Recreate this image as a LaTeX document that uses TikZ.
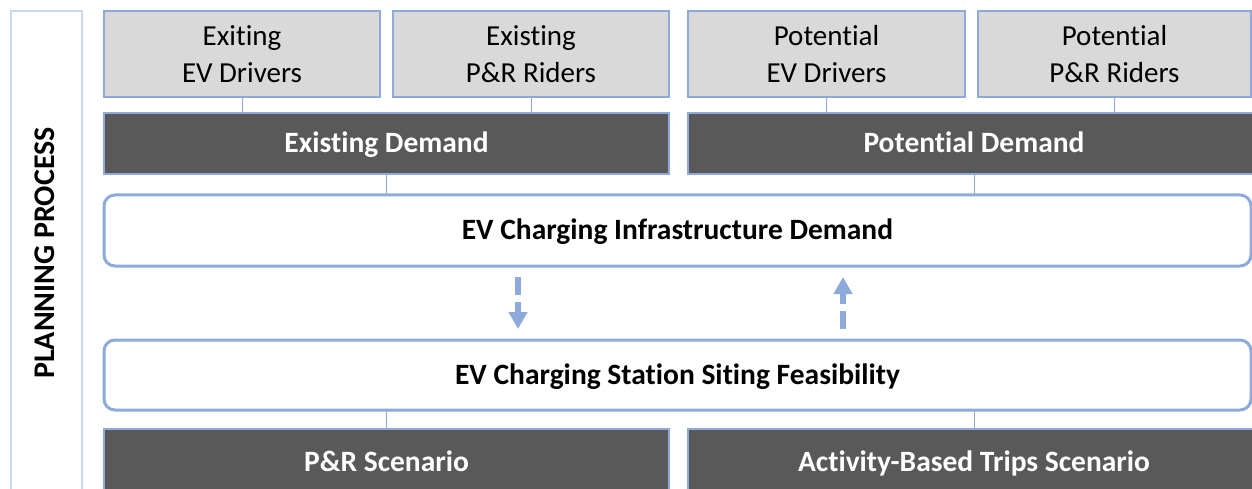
\documentclass[tikz,border=0pt]{standalone}
\usepackage{fontspec}
\setmainfont[Ligatures={NoCommon}]{Carlito}
\usetikzlibrary{arrows.meta}
\definecolor{bord}{HTML}{8EAADB}
\definecolor{lbord}{HTML}{C9D7EF}
\definecolor{gfill}{HTML}{D9D9D9}
\definecolor{dfill}{HTML}{595959}
\begin{document}
\begin{tikzpicture}[x=1pt,y=-1pt,
  every node/.style={inner sep=0pt, outer sep=0pt},
  graybox/.style={draw=bord, line width=2pt, fill=gfill, minimum height=86pt, align=center, text depth=0pt, font=\fontsize{29}{37}\selectfont, text=black},
  boldtext/.style={text height=18.6pt, text depth=0pt, font=\fontsize{29.5}{35}\selectfont\bfseries},
  darkbox/.style={boldtext, draw=bord, line width=1.2pt, fill=dfill, minimum height=61pt, text=white},
  roundbox/.style={boldtext, draw=bord, line width=3pt, fill=white, rounded corners=11pt, minimum width=1147pt},
  link/.style={draw=bord, line width=1pt},
  flow/.style={draw=bord, line width=5.5pt, dash pattern=on 18pt off 7pt, -{Triangle[length=17pt,width=18pt]}}
]
\useasboundingbox (0,0) rectangle (1252,489);
\fill[white] (0,0) rectangle (1252,489);

% left column
\node[draw=lbord, line width=1.2pt, minimum width=71pt, minimum height=490pt] (col) at (46.5,256) {};
\node[boldtext, rotate=90, font=\fontsize{30}{35}\selectfont\bfseries] (plan) at (45,253) {PLANNING PROCESS};

% top boxes
\node[graybox, minimum width=276pt] (b1) at (242,54) {Exiting\\EV Drivers};
\node[graybox, minimum width=276pt] (b2) at (531,54) {Existing\\P\&R Riders};
\node[graybox, minimum width=277pt] (b3) at (826.5,54) {Potential\\EV Drivers};
\node[graybox, minimum width=273pt] (b4) at (1114.5,54) {Potential\\P\&R Riders};

% demand boxes
\node[darkbox, minimum width=565pt] (ed) at (386.5,143.5) {Existing Demand};
\node[darkbox, minimum width=572pt] (pd) at (974,143.5) {Potential Demand};

% rounded boxes
\node[roundbox, minimum height=71pt] (infra) at (677.5,230.5) {EV Charging Infrastructure Demand};
\node[roundbox, minimum height=70pt] (feas) at (677.5,375) {EV Charging Station Siting Feasibility};

% bottom boxes
\node[darkbox, minimum width=565pt, minimum height=66pt] (pr) at (386.5,462) {P\&R Scenario};
\node[darkbox, minimum width=572pt, minimum height=66pt] (ab) at (974,462) {Activity-Based Trips Scenario};

% connectors
\draw[link] (b1.south) -- (b1.south |- ed.north);
\draw[link] (b2.south) -- (b2.south |- ed.north);
\draw[link] (b3.south) -- (b3.south |- pd.north);
\draw[link] (b4.south) -- (b4.south |- pd.north);
\draw[link] (ed.south) -- (ed.south |- infra.north);
\draw[link] (pd.south) -- (pd.south |- infra.north);
\draw[link] (feas.south -| ed.south) -- (pr.north);
\draw[link] (feas.south -| pd.south) -- (ab.north);

% flow arrows
\coordinate (dtop) at ([xshift=-159.5pt, yshift=-11pt]infra.south);
\coordinate (dbot) at ([xshift=-159.5pt, yshift=11pt]feas.north);
\coordinate (utop) at ([xshift=165.5pt, yshift=-11pt]infra.south);
\coordinate (ubot) at ([xshift=165.5pt, yshift=11pt]feas.north);
\draw[flow] (dtop) -- (dbot);
\draw[flow] (ubot) -- (utop);
\end{tikzpicture}
\end{document}
